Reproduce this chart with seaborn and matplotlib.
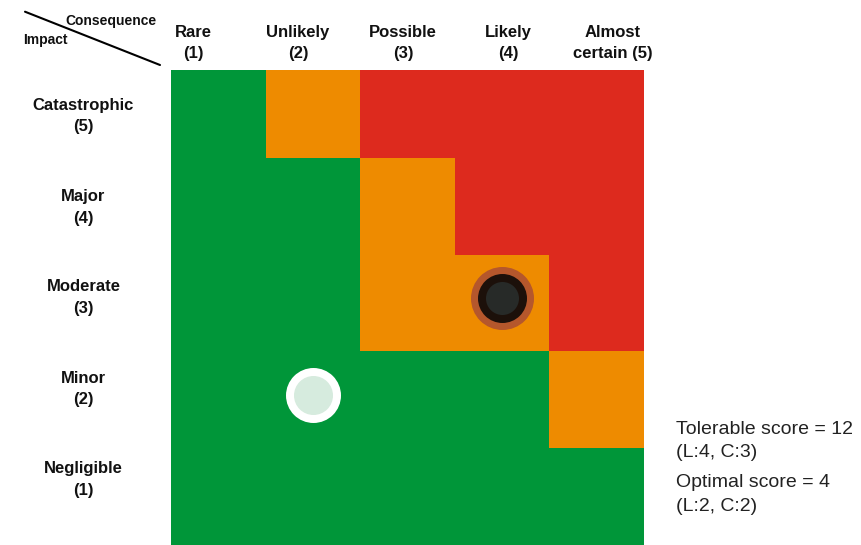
import matplotlib
matplotlib.use("Agg")
import matplotlib.pyplot as plt
import matplotlib.transforms as mtransforms
from matplotlib.colors import ListedColormap
from matplotlib.lines import Line2D
import numpy as np
import pandas as pd
import seaborn as sns

# ---- data -------------------------------------------------------------
likelihood_labels = ["Rare\n(1)", "Unlikely\n(2)", "Possible\n(3)", "Likely\n(4)", "Almost\ncertain (5)"]
impact_labels = ["Catastrophic\n(5)", "Major\n(4)", "Moderate\n(3)", "Minor\n(2)", "Negligible\n(1)"]

# risk zone per cell (0 = low, 1 = medium, 2 = high), rows from Catastrophic down to Negligible
zone_catastrophic = [0, 1, 2, 2, 2]
zone_major = [0, 0, 1, 2, 2]
zone_moderate = [0, 0, 1, 1, 2]
zone_minor = [0, 0, 0, 0, 1]
zone_negligible = [0, 0, 0, 0, 0]

# assessed positions (likelihood, consequence) and scores
tolerable_L, tolerable_C, tolerable_score = 4, 3, 12
optimal_L, optimal_C, optimal_score = 2, 2, 4

zone_colors = ["#009639", "#EE8B00", "#DD2A1E"]

# ---- figure -----------------------------------------------------------
W, H = 862, 545
sns.set_theme(style="white")
plt.rcParams["font.family"] = ["Liberation Sans", "DejaVu Sans"]

fig = plt.figure(figsize=(W / 100, H / 100), dpi=100)
ax = fig.add_axes([171 / W, 0, 473 / W, 475 / H])

grid = pd.DataFrame(
    [zone_catastrophic, zone_major, zone_moderate, zone_minor, zone_negligible],
    index=impact_labels, columns=likelihood_labels,
)
sns.heatmap(grid, ax=ax, cmap=ListedColormap(zone_colors), vmin=-0.5, vmax=2.5,
            cbar=False, xticklabels=False, yticklabels=False, linewidths=0)
ax.set_ylim(5, 0.093)
ax.set_xlim(0, 5)
for s in ax.spines.values():
    s.set_visible(False)

n_rows = len(impact_labels)
shift = ax.transData + mtransforms.ScaledTranslation(0, 5 / 100, fig.dpi_scale_trans)

def cell(L, C):
    return L - 0.5, n_rows - C + 0.5

# tolerable marker: layered dark disc
tx, ty = cell(tolerable_L, tolerable_C)
ax.scatter([tx], [ty], s=2058, color="#B5572C", linewidths=0, transform=shift, zorder=3)
ax.scatter([tx], [ty], s=1245, color="#1C100A", linewidths=0, transform=shift, zorder=4)
ax.scatter([tx], [ty], s=565, color="#272A28", linewidths=0, transform=shift, zorder=5)

# optimal marker: white ring with pale centre
ox, oy = cell(optimal_L, optimal_C)
ax.scatter([ox], [oy], s=1568, color="#FFFFFF", linewidths=0, transform=shift, zorder=3)
ax.scatter([ox], [oy], s=789, color="#D6EBDE", linewidths=0, transform=shift, zorder=4)

# ---- header / side labels ---------------------------------------------
def fx(px):
    return px / W

def fy(py):
    return 1 - py / H

header_x = [193, 298, 403, 508, 613]
for x, lab in zip(header_x, likelihood_labels):
    fig.text(fx(x), fy(43), lab, ha="center", va="center", fontsize=12,
             fontweight="bold", color="#111111", linespacing=1.55)

side_y = [116, 207.5, 297.5, 389, 479.5]
for y, lab in zip(side_y, impact_labels):
    fig.text(fx(83.5), fy(y), lab, ha="center", va="center", fontsize=12,
             fontweight="bold", color="#111111", linespacing=1.55)

fig.add_artist(Line2D([fx(25), fx(160)], [fy(11.7), fy(65)], transform=fig.transFigure,
                      color="black", lw=1.5))
fig.text(fx(65), fy(20.5), "Consequence", ha="left", va="center", fontsize=10,
         fontweight="bold", color="#111111")
fig.text(fx(23), fy(40), "Impact", ha="left", va="center", fontsize=10,
         fontweight="bold", color="#111111")

fig.text(fx(676), fy(441), f"Tolerable score = {tolerable_score}\n(L:{tolerable_L}, C:{tolerable_C})",
         ha="left", va="center", fontsize=14, color="#222222", linespacing=1.5)
fig.text(fx(676), fy(494.5), f"Optimal score = {optimal_score}\n(L:{optimal_L}, C:{optimal_C})",
         ha="left", va="center", fontsize=14, color="#222222", linespacing=1.5)

fig.savefig("out.png", dpi=100, facecolor="white")
